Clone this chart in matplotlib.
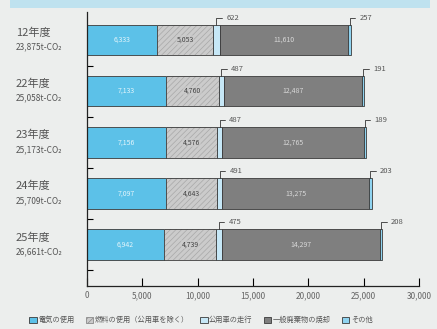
import matplotlib.pyplot as plt
from matplotlib.patches import Rectangle
from matplotlib.transforms import blended_transform_factory

plt.rcParams['font.family'] = ['Noto Sans CJK JP', 'DejaVu Sans']
plt.rcParams['hatch.linewidth'] = 0.5

years = ["12年度", "22年度", "23年度", "24年度", "25年度"]
totals = ["23,875t-CO₂", "25,058t-CO₂", "25,173t-CO₂", "25,709t-CO₂", "26,661t-CO₂"]
electric = [6333, 7133, 7156, 7097, 6942]
fuel = [5053, 4760, 4576, 4643, 4739]
car = [622, 487, 487, 491, 475]
waste = [11610, 12487, 12765, 13275, 14297]
other = [257, 191, 189, 203, 208]
legend_names = ["電気の使用", "燃料の使用（公用車を除く）", "公用車の走行", "一般廃棄物の焼却", "その他"]
xticks = [0, 5000, 10000, 15000, 20000, 25000, 30000]

bg = "#eceeed"
fig = plt.figure(figsize=(4.37, 3.29), dpi=100, facecolor=bg)
fig.patches.append(Rectangle((0.023, 0.975), 0.96, 0.03, transform=fig.transFigure,
                             facecolor="#bfe2ef", edgecolor="none"))
ax = fig.add_axes([0.199, 0.131, 0.760, 0.8328])
ax.set_facecolor(bg)
ax.set_xlim(0, 30000)
ax.set_ylim(4.81, -0.55)

pos = list(range(len(years)))
h = 0.6
edge = "#3a3a3a"
left = [0] * len(years)
specs = [
    (electric, "#5cc1e8", None),
    (fuel, "#cbcbcb", "//////"),
    (car, "#c6e7f6", None),
    (waste, "#7f7f7f", None),
    (other, "#8fd3f0", None),
]
bars = []
lefts = []
for vals, col, hat in specs:
    lefts.append(list(left))
    if hat:
        # hatch takes the edge colour, so draw the fill and the outline apart
        ax.barh(pos, vals, left=left, height=h, color=col, edgecolor="#a8a8a8",
                linewidth=0, hatch=hat)
        b = ax.barh(pos, vals, left=left, height=h, facecolor="none", edgecolor=edge,
                    linewidth=0.6)
    else:
        b = ax.barh(pos, vals, left=left, height=h, color=col, edgecolor=edge,
                    linewidth=0.6)
    bars.append(b)
    left = [l + v for l, v in zip(left, vals)]

fuel_handle = Rectangle((0, 0), 1, 1, facecolor="#cbcbcb", edgecolor="#8a8a8a",
                        hatch="//////", linewidth=0.6)

lab_tr = blended_transform_factory(fig.transFigure, ax.transData)
for i in pos:
    ax.text(electric[i] / 2, i, f"{electric[i]:,}", ha="center", va="center",
            fontsize=5, color="#e4f5fb")
    ax.text(lefts[1][i] + fuel[i] / 2, i, f"{fuel[i]:,}", ha="center", va="center",
            fontsize=5, color="#444444",
            bbox=dict(facecolor="#cbcbcb", edgecolor="none", pad=0.5, alpha=0.6))
    ax.text(lefts[3][i] + waste[i] / 2, i, f"{waste[i]:,}", ha="center", va="center",
            fontsize=5, color="#d8d8d8")
    for k, vals in ((2, car), (4, other)):
        ax.annotate(f"{vals[i]:,}", xy=(lefts[k][i] + vals[i] / 2, i - h / 2),
                    xytext=(7, 5), textcoords="offset points", ha="left", va="center",
                    fontsize=5.5, color="#555555",
                    arrowprops=dict(arrowstyle="-", color="#333333", lw=0.6,
                                    connectionstyle="angle,angleA=0,angleB=90,rad=0",
                                    shrinkA=1, shrinkB=0))
    ax.text(0.036, i - 0.14, years[i], transform=lab_tr, fontsize=8,
            color="#555555", ha="left", va="center")
    ax.text(0.036, i + 0.14, totals[i], transform=lab_tr, fontsize=6,
            color="#555555", ha="left", va="center")

ax.set_yticks([i + 0.5 for i in pos])
ax.set_yticklabels([])
ax.set_xticks(xticks)
ax.set_xticklabels([f"{t:,}" for t in xticks], fontsize=6, color="#666666")
ax.tick_params(axis="x", direction="in", length=6, width=0.8, pad=4)
ax.tick_params(axis="y", direction="in", length=4, width=0.8)
for s in ("top", "right"):
    ax.spines[s].set_visible(False)
for s in ("left", "bottom"):
    ax.spines[s].set_color("#222222")
    ax.spines[s].set_linewidth(0.9)

handles = [bars[0][0], fuel_handle, bars[2][0], bars[3][0], bars[4][0]]
fig.legend(handles, legend_names, loc="lower center", bbox_to_anchor=(0.46, -0.005),
           ncol=5, fontsize=5.2, frameon=False, handlelength=1.0, handleheight=0.9,
           handletextpad=0.2, columnspacing=1.6, labelcolor="#555555")

fig.savefig("out.png", dpi=100, facecolor=bg)
